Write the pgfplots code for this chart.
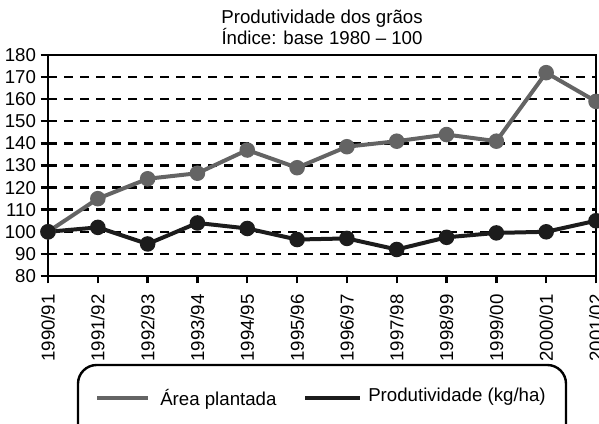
\documentclass[border=0pt]{standalone}
\usepackage{fontspec}
\setmainfont{Liberation Sans}
\usepackage{pgfplots}
\pgfplotsset{compat=1.18}
\definecolor{areagray}{RGB}{100,100,100}
\definecolor{prodblack}{RGB}{28,28,28}
\begin{document}
\begin{tikzpicture}
\clip (-36pt,-111pt) rectangle (413.25pt,207pt);
\begin{axis}[
  at={(0,0)}, anchor=south west,
  scale only axis,
  width=411pt, height=165.75pt,
  xmin=0, xmax=11, ymin=80, ymax=180,
  xtick={0,...,11},
  xticklabels={1990/91,1991/92,1992/93,1993/94,1994/95,1995/96,1996/97,1997/98,1998/99,1999/00,2000/01,2001/02},
  ytick={80,90,...,180},
  x tick label style={rotate=90, anchor=east, inner sep=1pt},
  xticklabel shift=7pt,
  tick label style={font=\fontsize{14}{16}\selectfont},
  /pgf/number format/assume math mode=true,
  tick align=outside, xtick pos=bottom, ytick pos=left,
  major tick length=5.5pt,
  tick style={line width=1.8pt, black},
  axis line style={line width=2pt},
  ymajorgrids, grid style={dashed, line width=1.8pt, dash pattern=on 7pt off 5pt, black},
  title={Produtividade dos grãos\\Índice: base 1980 -- 100},
  title style={align=center, font=\fontsize{14}{14}\selectfont, yshift=-2pt},
  clip=false,
]
\addplot[areagray, line width=3pt, mark=*, mark size=4.3pt] coordinates {
 (0,100) (1,115) (2,124) (3,126.5) (4,137) (5,129) (6,138.5) (7,141) (8,144) (9,141) (10,172) (11,159)};
\addplot[prodblack, line width=3pt, mark=*, mark size=4.3pt] coordinates {
 (0,100) (1,102) (2,94.5) (3,104) (4,101.5) (5,96.5) (6,97) (7,92) (8,97.5) (9,99.5) (10,100) (11,105)};
\end{axis}
\draw[line width=1.8pt, rounded corners=14pt] (22.5pt,-66.75pt) rectangle (388.5pt,-130pt);
\draw[areagray, line width=3pt] (36.75pt,-91.5pt) -- (75pt,-91.5pt);
\node[anchor=west, font=\fontsize{14}{16}\selectfont, inner sep=0pt] at (84pt,-92.5pt) {Área plantada};
\draw[prodblack, line width=3pt] (192.75pt,-91.5pt) -- (234pt,-91.5pt);
\node[anchor=west, font=\fontsize{14}{16}\selectfont, inner sep=0pt] at (240pt,-90.5pt) {Produtividade (kg/ha)};
\end{tikzpicture}
\end{document}
